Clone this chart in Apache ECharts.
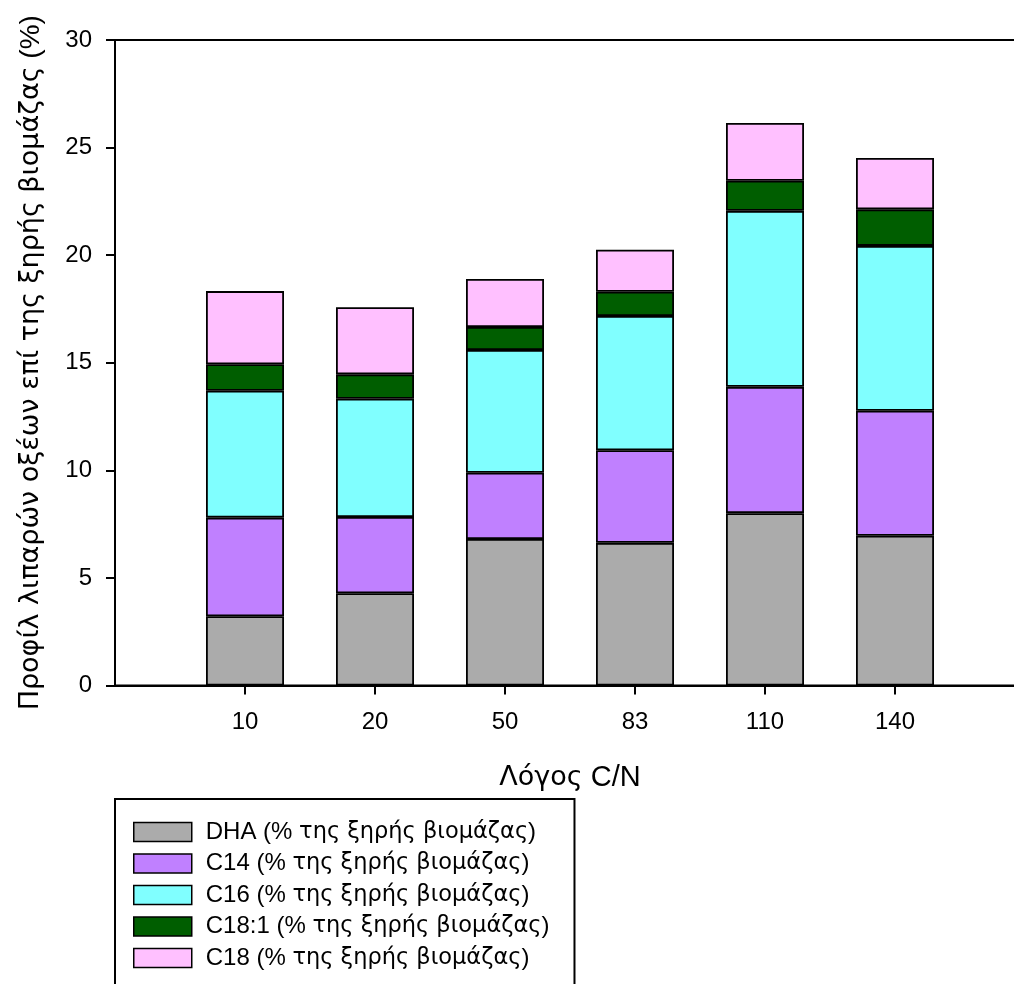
<!DOCTYPE html>
<html>
<head>
<meta charset="utf-8">
<script src="https://cdn.jsdelivr.net/npm/echarts@6/dist/echarts.min.js"></script>
<style>
html,body{margin:0;padding:0;background:#fff;}
#chart{width:1014px;height:984px;}
</style>
</head>
<body>
<div id="chart"></div>
<script>
// Categories (C/N ratio); empty slots pad the axis ends
const categories = ['', '10', '20', '50', '83', '110', '140', ''];
// Series values (% of dry biomass), stacked bottom to top
const dha  = [null, 3.22, 4.29, 6.81, 6.63, 8.01, 6.96, null];
const c14  = [null, 4.58, 3.54, 3.08, 4.30, 5.87, 5.81, null];
const c16  = [null, 5.90, 5.50, 5.70, 6.24, 8.18, 7.66, null];
const c181 = [null, 1.23, 1.13, 1.07, 1.13, 1.40, 1.70, null];
const c18  = [null, 3.40, 3.12, 2.23, 1.95, 2.68, 2.39, null];
const seriesKeys = ['DHA', 'C14', 'C16', 'C18:1', 'C18'];
const unitText = 'της ξηρής βιομάζας';
const seriesNames = seriesKeys.map(k => k + ' (% ' + unitText + ')');
const seriesColors = ['#ababab', '#c080ff', '#80ffff', '#005e00', '#ffc0ff'];
const seriesData = [dha, c14, c16, c181, c18];

const LAT = '"Liberation Sans", Arial, sans-serif';
const GRK = '"DejaVu Sans", sans-serif';
const chart = echarts.init(document.getElementById('chart'), null, {renderer: 'canvas'});

const series = seriesData.map((d, i) => ({
  name: seriesNames[i],
  type: 'bar',
  stack: 'total',
  data: d,
  barWidth: 78,
  itemStyle: {color: seriesColors[i], borderColor: '#000', borderWidth: 1.8},
  emphasis: {disabled: true}
}));

chart.setOption({
  animation: false,
  backgroundColor: '#fff',
  textStyle: {fontFamily: LAT, color: '#000'},
  grid: {
    left: 115, top: 40, width: 910, height: 645.5,
    outerBoundsMode: 'none', containLabel: false,
    show: true, borderColor: '#000', borderWidth: 2, backgroundColor: 'transparent'
  },
  legend: {
    orient: 'vertical',
    left: 115, top: 799,
    height: 172,
    data: seriesNames,
    icon: 'rect',
    itemWidth: 58, itemHeight: 19, itemGap: 7.5,
    padding: [21, 25, 30, 18],
    borderColor: '#000', borderWidth: 2,
    formatter: function (name) {
      const i = seriesNames.indexOf(name);
      return '{a|' + seriesKeys[i] + ' (% }{g|' + unitText + '}{a|)}';
    },
    textStyle: {
      color: '#000',
      padding: [0, 0, 0, 9],
      rich: {
        a: {fontFamily: LAT, fontSize: 24, color: '#000', lineHeight: 25},
        g: {fontFamily: GRK, fontSize: 22.5, color: '#000', lineHeight: 25}
      }
    },
    itemStyle: {borderColor: '#000', borderWidth: 1.5},
    selectedMode: false
  },
  xAxis: {
    type: 'category',
    data: categories,
    boundaryGap: false,
    name: '{g|Λόγος}{a| C/N}',
    nameLocation: 'middle',
    nameGap: 78,
    nameTextStyle: {
      color: '#000',
      rich: {
        a: {fontFamily: LAT, fontSize: 29, color: '#000'},
        g: {fontFamily: GRK, fontSize: 27, color: '#000'}
      }
    },
    axisLine: {lineStyle: {color: '#000', width: 2}},
    axisTick: {
      show: true, length: 9, inside: false,
      interval: function (idx) { return idx > 0 && idx < categories.length - 1; },
      lineStyle: {color: '#000', width: 2}
    },
    axisLabel: {fontSize: 24, color: '#000', margin: 25, fontFamily: LAT, interval: 0},
    splitLine: {show: false}
  },
  yAxis: {
    type: 'value',
    min: 0, max: 30, interval: 5,
    name: '{g|Προφίλ λιπαρών οξέων επί της ξηρής βιομάζας}{a| (%)}',
    nameLocation: 'middle',
    nameGap: 70,
    nameTextStyle: {
      color: '#000',
      rich: {
        a: {fontFamily: LAT, fontSize: 28, color: '#000'},
        g: {fontFamily: GRK, fontSize: 27, color: '#000'}
      }
    },
    axisLine: {show: true, lineStyle: {color: '#000', width: 2}},
    axisTick: {show: true, length: 9, inside: false, lineStyle: {color: '#000', width: 2}},
    axisLabel: {fontSize: 24, color: '#000', margin: 23, fontFamily: LAT},
    splitLine: {show: false}
  },
  series: series
});
</script>
</body>
</html>
